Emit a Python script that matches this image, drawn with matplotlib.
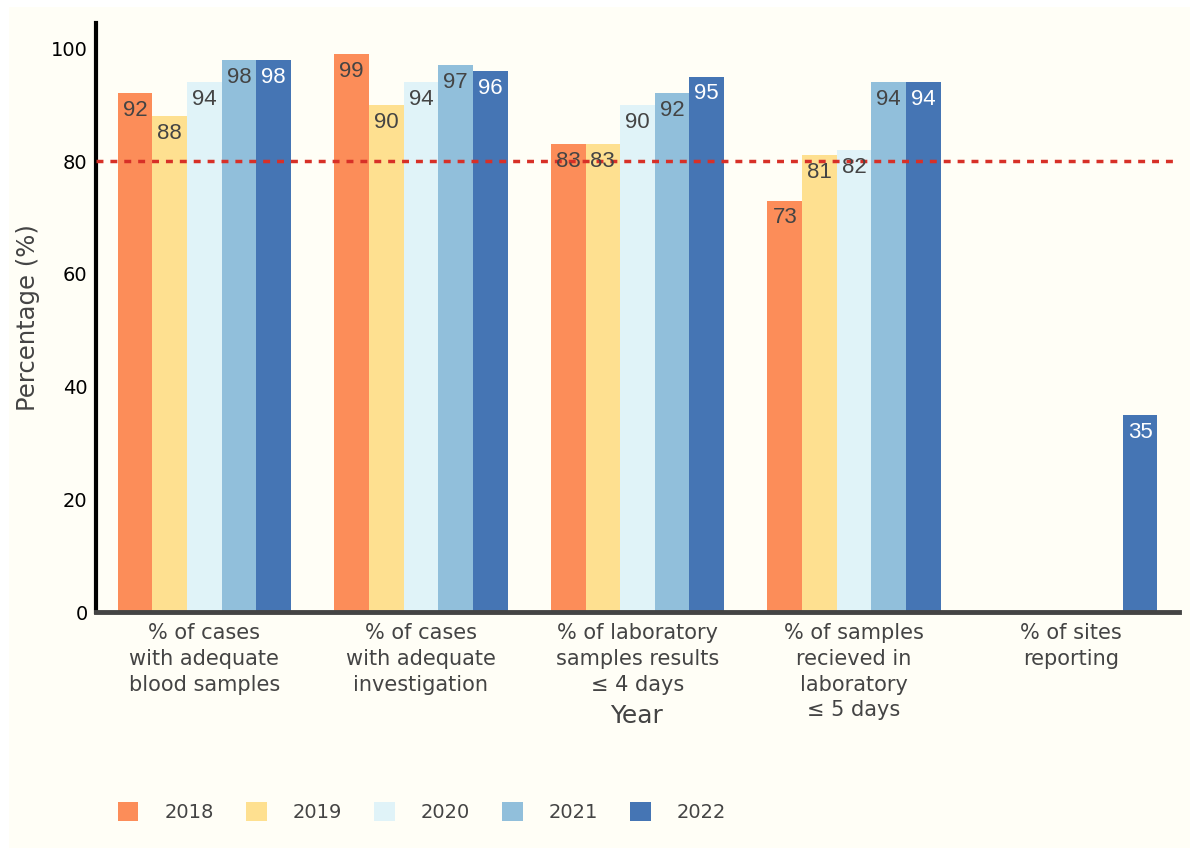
import numpy as np
import matplotlib.pyplot as plt
from matplotlib.patches import Rectangle

categories = ['% of cases\nwith adequate\nblood samples',
              '% of cases\nwith adequate\ninvestigation',
              '% of laboratory\nsamples results\n≤ 4 days',
              '% of samples\nrecieved in\nlaboratory\n≤ 5 days',
              '% of sites\nreporting']
years = ['2018', '2019', '2020', '2021', '2022']
v2018 = [92, 99, 83, 73, np.nan]
v2019 = [88, 90, 83, 81, np.nan]
v2020 = [94, 94, 90, 82, np.nan]
v2021 = [98, 97, 92, 94, np.nan]
v2022 = [98, 96, 95, 94, 35]
series = [v2018, v2019, v2020, v2021, v2022]
colors = ['#fc8d59', '#fee090', '#e0f3f8', '#91bfdb', '#4575b4']
label_colors = ['#444444', '#444444', '#444444', '#444444', '#ffffff']
target = 80

bg = '#fffef6'
fig = plt.figure(figsize=(11.9, 8.48), dpi=100, facecolor='white')
fig.patches.append(Rectangle((9 / 1190, 0), 1, 1 - 7 / 848, transform=fig.transFigure,
                             facecolor=bg, edgecolor='none', zorder=-10))
ax = fig.add_axes([96 / 1190, 1 - 612 / 848, (1179 - 96) / 1190, (612 - 23) / 848])
ax.set_facecolor(bg)

x = np.arange(len(categories))
w = 0.16
for i, (vals, c, lc, yr) in enumerate(zip(series, colors, label_colors, years)):
    xs = x + (i - 2) * w
    ax.bar(xs, vals, width=w, color=c, label=yr, zorder=2)
    for xi, v in zip(xs, vals):
        if np.isnan(v):
            continue
        ax.annotate(f'{v:.0f}', (xi, v), xytext=(0, -5), textcoords='offset points',
                    ha='center', va='top', fontsize=16, color=lc,
                    family='Liberation Sans', zorder=4)

ax.axhline(target, color='#d73027', lw=2.5, ls=(0, (2, 2)), zorder=3)

ax.set_xlim(-0.5, 4.5)
ax.set_ylim(0, 104.5)
ax.set_yticks([0, 20, 40, 60, 80, 100])
ax.set_xticks(x)
ax.set_xticklabels(categories, fontsize=15, color='#444444', linespacing=1.36)
ax.tick_params(axis='y', length=0, labelsize=14, pad=6)
ax.tick_params(axis='x', length=0, pad=8)
for s in ['top', 'right']:
    ax.spines[s].set_visible(False)
ax.spines['left'].set_linewidth(3)
ax.spines['left'].set_color('black')
ax.spines['bottom'].set_linewidth(3.5)
ax.spines['bottom'].set_color('#444444')

ax.set_ylabel('Percentage (%)', fontsize=17.5, color='#444444', labelpad=8)
fig.text(637 / 1190, 1 - 716 / 848, 'Year', fontsize=18, color='#444444',
         ha='center', va='center')

leg = fig.legend(loc='center left', bbox_to_anchor=(118 / 1190, 1 - 812 / 848), ncol=5,
                 frameon=False, fontsize=14, handlelength=1.05, handleheight=1.15,
                 columnspacing=1.65, handletextpad=1.35, borderaxespad=0, borderpad=0)
for t in leg.get_texts():
    t.set_color('#444444')

plt.savefig('out.png', dpi=100, facecolor='white')
